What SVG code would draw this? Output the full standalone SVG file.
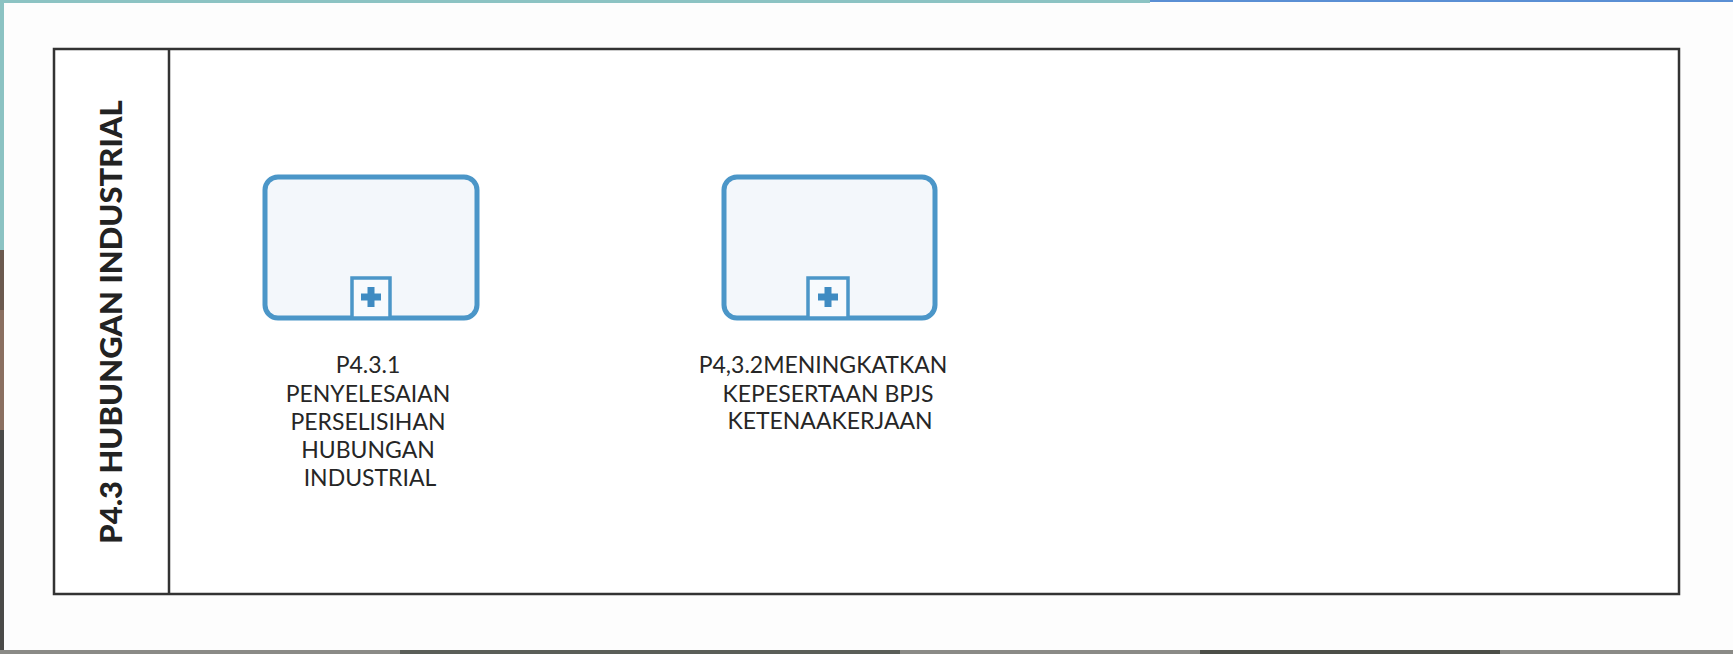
<svg xmlns="http://www.w3.org/2000/svg" width="1733" height="654" viewBox="0 0 1733 654">
<style>
.task{fill:#f3f7fb;stroke:#4b96c8;stroke-width:5}
.mk{fill:#f7fafd;stroke:#4b96c8;stroke-width:3.5}
.plus{fill:#3f8bc2}
.lbl{font-family:Lato,"Open Sans",sans-serif;font-size:23px;fill:#262626;text-anchor:middle}
.title{font-family:Lato,"Open Sans",sans-serif;font-weight:900;font-size:31px;fill:#222;text-anchor:middle}
.pool{fill:#ffffff;stroke:#333;stroke-width:2.5}
</style>
<defs>
<g id="plusicon"><rect x="-10" y="-3.5" width="20" height="7" class="plus"/><rect x="-3.5" y="-10" width="7" height="20" class="plus"/></g>
</defs>
<rect x="0" y="0" width="1733" height="654" fill="#fdfdfd"/>
<rect x="0" y="0" width="1150" height="3" fill="#8cc3c3"/>
<rect x="1150" y="0" width="583" height="2" fill="#5a8fd4"/>
<rect x="0" y="0" width="4" height="250" fill="#8cc3c3"/>
<rect x="0" y="250" width="4" height="60" fill="#6b5a4f"/>
<rect x="0" y="310" width="4" height="120" fill="#8a6f60"/>
<rect x="0" y="430" width="4" height="224" fill="#4a4a48"/>
<rect x="0" y="650" width="1733" height="4" fill="#8a8a86"/>
<rect x="400" y="650" width="500" height="4" fill="#5a5e58"/>
<rect x="1200" y="650" width="300" height="4" fill="#4c4e48"/>
<g id="pool">
<rect x="54" y="49" width="1625" height="545" class="pool"/>
<line x1="169" y1="49" x2="169" y2="594" stroke="#333" stroke-width="2.5"/>
<text class="title" transform="translate(122,322) rotate(-90)">P4.3 HUBUNGAN INDUSTRIAL</text>
</g>
<g id="connectors"></g>
<g id="task1">
<rect x="265" y="177" width="212" height="141" rx="13" class="task"/>
<rect x="352" y="278" width="38" height="40" class="mk"/>
<use href="#plusicon" x="371" y="297"/>
<text class="lbl" x="368" y="373">P4.3.1</text>
<text class="lbl" x="368" y="402">PENYELESAIAN</text>
<text class="lbl" x="368" y="430">PERSELISIHAN</text>
<text class="lbl" x="368" y="458">HUBUNGAN</text>
<text class="lbl" x="370" y="486">INDUSTRIAL</text>
</g>
<g id="task2">
<rect x="724" y="177" width="211" height="141" rx="13" class="task"/>
<rect x="808" y="278" width="40" height="40" class="mk"/>
<use href="#plusicon" x="828" y="297"/>
<text class="lbl" x="823" y="373">P4,3.2MENINGKATKAN</text>
<text class="lbl" x="828" y="402">KEPESERTAAN BPJS</text>
<text class="lbl" x="830" y="429">KETENAAKERJAAN</text>
</g>
</svg>
